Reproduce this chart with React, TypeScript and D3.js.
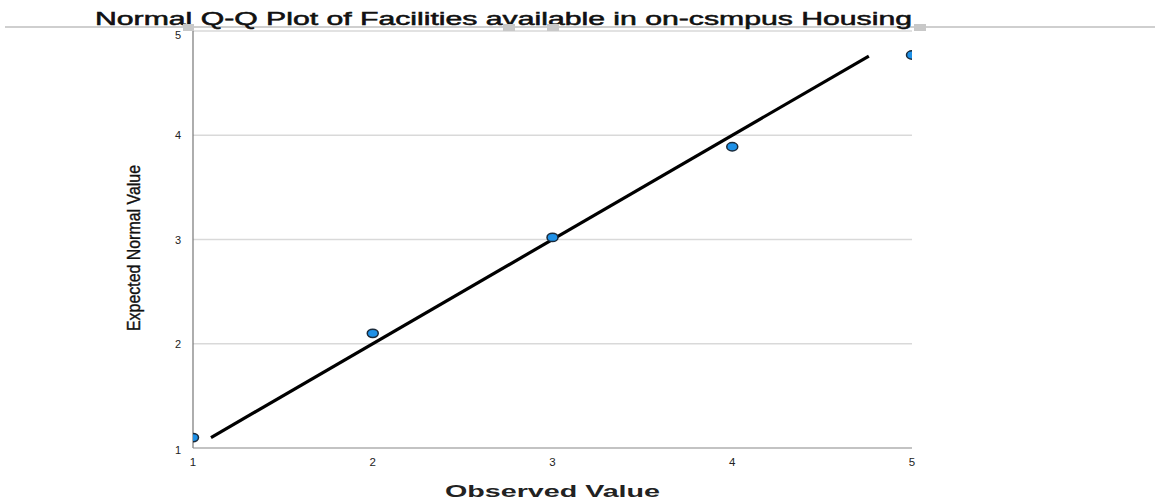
import React from "react";
import * as d3 from "d3";

const observed = [1, 2, 3, 4, 5];
const expected = [1.1, 2.1, 3.02, 3.89, 4.77];
const lineStart = 1.1;
const lineEnd = 4.76;
const xTicks = [1, 2, 3, 4, 5];
const yTicks = [1, 2, 3, 4, 5];
const title = "Normal Q-Q Plot of Facilities available in on-csmpus Housing";
const xLabel = "Observed Value";
const yLabel = "Expected Normal Value";

export default function App() {
  const W = 1155, H = 499;
  const left = 193, right = 912, top = 31, bottom = 448;
  const x = d3.scaleLinear().domain([1, 5]).range([left, right]);
  const y = d3.scaleLinear().domain([1, 5]).range([bottom, top]);
  const font = "Liberation Sans, Arial, sans-serif";
  return (
    <svg width={W} height={H} style={{ position: "absolute", left: 0, top: 0, background: "#fff" }}>
      <defs>
        <clipPath id="plotclip">
          <rect x={left} y={top} width={right - left} height={bottom - top} />
        </clipPath>
      </defs>
      <line x1={5} x2={W} y1={27} y2={27} stroke="#cfcfcf" strokeWidth={2} />
      {yTicks.slice(1).map((t) => (
        <line key={t} x1={left} x2={right} y1={y(t)} y2={y(t)} stroke="#d9d9d9" strokeWidth={1.5} />
      ))}
      <line x1={left} x2={left} y1={top} y2={bottom} stroke="#777" strokeWidth={1.2} />
      <line x1={left} x2={right} y1={bottom} y2={bottom} stroke="#888" strokeWidth={1.2} />
      {yTicks.map((t) => (
        <text key={t} x={181} y={y(t) + (t === 1 ? 6 : t === 5 ? 7.5 : 4)} textAnchor="end" fontFamily={font} fontSize={11} fill="#222">
          {t}
        </text>
      ))}
      {xTicks.map((t) => (
        <text key={t} x={x(t)} y={466} textAnchor="middle" fontFamily={font} fontSize={11.5} fill="#222">
          {t}
        </text>
      ))}
      <g clipPath="url(#plotclip)">
        <line
          x1={x(lineStart)} y1={y(lineStart)} x2={x(lineEnd)} y2={y(lineEnd)}
          stroke="#000" strokeWidth={3.2}
        />
        {observed.map((o, i) => (
          <ellipse key={i} cx={x(o)} cy={y(expected[i])} rx={5.5} ry={4.2} fill="#1e90e6" stroke="#1a2a3a" strokeWidth={1.5} />
        ))}
      </g>
      <text x={95} y={25} fontFamily={font} fontSize={17.5} fill="#111" stroke="#111" strokeWidth={0.5} textLength={817} lengthAdjust="spacingAndGlyphs">
        {title}
      </text>
      <rect x={183} y={24} width={11} height={7} fill="#c8c8c8" />
      <rect x={503} y={24} width={12} height={7} fill="#c8c8c8" />
      <rect x={547} y={24} width={12} height={7} fill="#c8c8c8" />
      <rect x={914} y={24} width={12} height={7} fill="#c8c8c8" />
      <text x={445} y={497} fontFamily={font} fontSize={16} fontWeight="bold" fill="#222" textLength={215} lengthAdjust="spacingAndGlyphs">
        {xLabel}
      </text>
      <text
        transform={`translate(140, 248) rotate(-90)`}
        textAnchor="middle" fontFamily={font} fontSize={19} fill="#111" stroke="#111" strokeWidth={0.4}
        textLength={166} lengthAdjust="spacingAndGlyphs"
      >
        {yLabel}
      </text>
    </svg>
  );
}
